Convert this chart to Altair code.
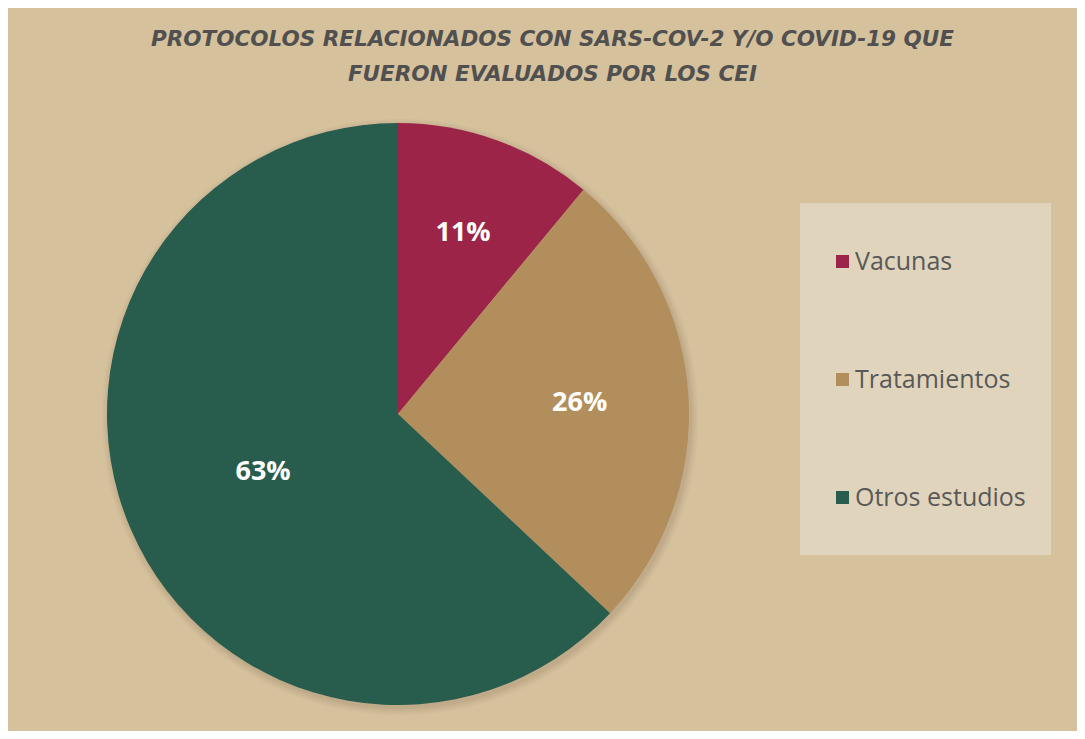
import altair as alt
import pandas as pd

categories = ["Vacunas", "Tratamientos", "Otros estudios"]
values = [11, 26, 63]
labels = ["11%", "26%", "63%"]
colors = ["#9D2449", "#B38E5D", "#285C4D"]
title_lines = ["PROTOCOLOS RELACIONADOS CON SARS-COV-2 Y/O COVID-19 QUE",
               "FUERON EVALUADOS POR LOS CEI"]

df = pd.DataFrame({"categoria": categories, "valor": values,
                   "etiqueta": labels, "orden": list(range(len(categories)))})

CX, CY, R = 390, 319, 291

theta = alt.Theta("valor:Q", stack=True)
order = alt.Order("orden:Q", sort="ascending")
color = alt.Color("categoria:N",
                  scale=alt.Scale(domain=categories, range=colors),
                  sort=categories,
                  legend=alt.Legend(title=None, orient="none",
                                    legendX=822, legendY=154,
                                    symbolType="square", symbolSize=169,
                                    symbolStrokeWidth=0,
                                    labelFont="Open Sans", labelFontSize=25,
                                    labelColor="#595959", labelOffset=0,
                                    labelLimit=400,
                                    rowPadding=92, padding=0))

base = alt.Chart(df)

shadows = []
for k, op in [(7, 0.03), (5, 0.04), (3, 0.05), (1, 0.06)]:
    shadows.append(base.mark_arc(outerRadius=R + k, color="#5a4a30", opacity=op).encode(
        theta=theta, order=order,
        x=alt.value(CX + 2), y=alt.value(CY + 3)))

box = base.mark_rect(color="#E0D5BC").encode(
    x=alt.value(792), x2=alt.value(1043),
    y=alt.value(108), y2=alt.value(460))

pie = base.mark_arc(outerRadius=R).encode(
    theta=theta, order=order, color=color,
    x=alt.value(CX), y=alt.value(CY))

text = base.transform_window(
    acum="sum(valor)", sort=[alt.SortField("orden")]
).transform_calculate(
    medio="datum.acum - datum.valor / 2",
    rlab="datum.categoria == 'Otros estudios' ? 147 : (datum.categoria == 'Vacunas' ? 192 : 182)"
).mark_text(font="Open Sans", fontWeight="bold", fontSize=27, color="white",
            align="center", baseline="middle").encode(
    theta=alt.Theta("medio:Q", stack=None),
    radius=alt.Radius("rlab:Q", scale=None),
    text="etiqueta:N",
    x=alt.value(CX), y=alt.value(CY))

chart = alt.layer(box, *shadows, pie, text).properties(
    width=1069, height=723,
    autosize=alt.AutoSizeParams(type="fit", contains="padding"),
    padding={"top": 20, "left": 0, "right": 0, "bottom": 0},
    background="#D5C19C",
    title=alt.TitleParams(title_lines, anchor="middle", fontSize=21.5,
                          font="DejaVu Sans", fontStyle="italic", fontWeight="bold",
                          color="#505050", lineHeight=35, offset=10, dx=10)
).configure_view(stroke=None)

chart.save("out.html", embed_options={"renderer": "svg", "actions": False})
